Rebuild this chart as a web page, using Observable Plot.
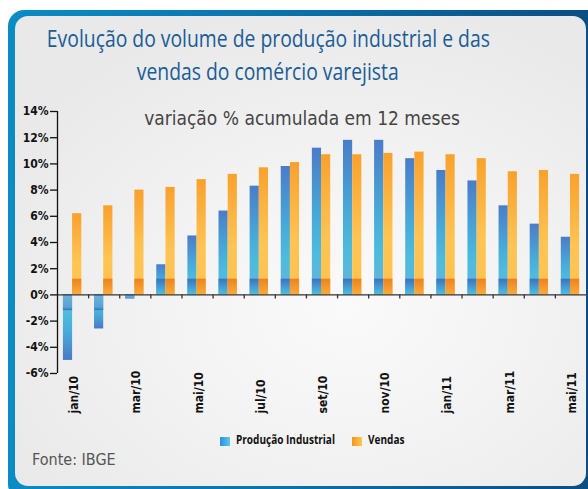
<!DOCTYPE html>
<html><head><meta charset="utf-8">
<script src="https://cdn.jsdelivr.net/npm/d3@7"></script>
<script src="https://cdn.jsdelivr.net/npm/@observablehq/plot@0.6"></script>
<style>
body{margin:0;background:#fff;}
#wrap{position:relative;width:588px;height:489px;overflow:hidden;font-family:"DejaVu Sans Condensed",sans-serif;}
#outer{position:absolute;left:8px;top:10px;width:610px;height:490px;border-radius:16px;background:linear-gradient(90deg,#0a8cc4 0%,#0a72ac 45%,#0b4a80 100%);}
#inner{position:absolute;left:15px;top:16px;width:571px;height:470px;border-radius:13px;background:radial-gradient(ellipse 70% 65% at 58% 62%,#fafafa 0%,#f3f3f3 45%,#e9e9e9 100%);}
.tl{position:absolute;left:0;width:536px;text-align:center;font-family:"Open Sans",sans-serif;font-size:23px;line-height:33px;color:#1a5c98;white-space:nowrap;}
.tl span{display:inline-block;transform-origin:50% 50%;}
#sub{position:absolute;left:0;top:109px;width:604px;text-align:center;font-size:19px;line-height:19px;color:#444;}
#chart{position:absolute;left:0;top:95px;}
#legend{position:absolute;left:220px;top:436px;font-family:"Open Sans",sans-serif;font-size:12px;font-weight:bold;color:#111;white-space:nowrap;height:14px;}
#legend .sw{position:absolute;top:1px;width:10px;height:9px;}
#legend .lt{position:absolute;top:-4px;line-height:16px;transform-origin:0 50%;}
#fonte{position:absolute;left:32px;top:450px;font-size:16px;color:#555;}
</style></head>
<body>
<div id="wrap">
  <div id="outer"></div>
  <div id="inner"></div>
  <div class="tl" style="top:22px"><span id="t1">Evolução do volume de produção industrial e das</span></div>
  <div class="tl" style="top:55px"><span id="t2">vendas do comércio varejista</span></div>
  <div id="chart"></div>
  <div id="sub">variação % acumulada em 12 meses</div>
  <div id="legend">
    <span class="sw" style="left:0;background:linear-gradient(90deg,#2b8fe0,#5cc8f0)"></span>
    <span class="lt" id="l1" style="left:16px">Produção Industrial</span>
    <span class="sw" style="left:132px;background:linear-gradient(90deg,#f7941d,#ffc84a)"></span>
    <span class="lt" id="l2" style="left:148px">Vendas</span>
  </div>
  <div id="fonte">Fonte: IBGE</div>
</div>
<script>
const months = ["jan/10","fev/10","mar/10","abr/10","mai/10","jun/10","jul/10","ago/10","set/10","out/10","nov/10","dez/10","jan/11","fev/11","mar/11","abr/11","mai/11"];
const producao = [-5.0,-2.6,-0.3,2.3,4.5,6.4,8.3,9.8,11.2,11.8,11.8,10.4,9.5,8.7,6.8,5.4,4.4];
const vendas = [6.2,6.8,8.0,8.2,8.8,9.2,9.7,10.1,10.7,10.7,10.8,10.9,10.7,10.4,9.4,9.5,9.2];
const yTicks = [-6,-4,-2,0,2,4,6,8,10,12,14];
const labeledMonths = months.filter((m, i) => i % 2 === 0);

const data = months.map((m, i) => ({i, month: m, prod: producao[i], vend: vendas[i]}));
const band = v => Math.sign(v) * Math.min(Math.abs(v), 1.2);

const defs = () => {
  const d = d3.create("svg:defs");
  const lg = (id, stops) => {
    const g = d.append("linearGradient").attr("id", id).attr("x1", 0).attr("y1", 0).attr("x2", 0).attr("y2", 1);
    stops.forEach(([o, c]) => g.append("stop").attr("offset", o).attr("stop-color", c));
  };
  lg("gBlueUp", [[0, "#4a7cc8"], [0.45, "#48a8d8"], [0.72, "#4dbcdd"], [1, "#6ab2d8"]]);
  lg("gBlueDown", [[0, "#6ab2d8"], [0.3, "#4dbcdd"], [0.6, "#48a8d8"], [1, "#4a78c6"]]);
  lg("gOrangeUp", [[0, "#f9a12c"], [0.6, "#ffc454"], [1, "#ffc24e"]]);
  lg("gBlueBand", [[0, "#3a72c0"], [1, "#4fbfe0"]]);
  lg("gBlueBandDown", [[0, "#6cb4da"], [0.8, "#5aa2d4"], [1, "#3a6fbe"]]);
  lg("gOrangeBand", [[0, "#ec8220"], [1, "#fbab3a"]]);
  return d.node();
};

const B1 = 0.19, B2 = 0.485, B3 = 0.78;

const plot = Plot.plot({
  width: 588,
  height: 330,
  marginLeft: 57,
  marginRight: 2,
  marginTop: 16,
  marginBottom: 52,
  style: {background: "transparent", fontFamily: "'DejaVu Sans Condensed',sans-serif", color: "#111"},
  x: {domain: [0, months.length], axis: null},
  y: {domain: [yTicks[0], yTicks[yTicks.length - 1]], axis: null},
  marks: [
    defs,
    Plot.rectY(data, {filter: d => d.prod >= 0, x1: d => d.i + B1, x2: d => d.i + B2, y: "prod", fill: "url(#gBlueUp)"}),
    Plot.rectY(data, {filter: d => d.prod < 0, x1: d => d.i + B1, x2: d => d.i + B2, y: "prod", fill: "url(#gBlueDown)"}),
    Plot.rectY(data, {filter: d => d.prod >= 0, x1: d => d.i + B1, x2: d => d.i + B2, y: d => band(d.prod), fill: "url(#gBlueBand)"}),
    Plot.rectY(data, {filter: d => d.prod < 0, x1: d => d.i + B1, x2: d => d.i + B2, y: d => band(d.prod), fill: "url(#gBlueBandDown)"}),
    Plot.rectY(data, {x1: d => d.i + B2, x2: d => d.i + B3, y: "vend", fill: "url(#gOrangeUp)"}),
    Plot.rectY(data, {x1: d => d.i + B2, x2: d => d.i + B3, y: d => band(d.vend), fill: "url(#gOrangeBand)"}),
    Plot.ruleY([0], {stroke: "#333", strokeWidth: 1.3}),
    Plot.ruleX(d3.range(1, months.length), {x: d => d, y1: 0, y2: 0, insetBottom: -4, stroke: "#333", strokeWidth: 1.3}),
    Plot.ruleX([0], {y1: yTicks[0], y2: yTicks[yTicks.length - 1], stroke: "#111", strokeWidth: 1.3}),
    Plot.axisY({ticks: yTicks, tickFormat: d => d + "%", tickSize: 7, tickPadding: 2, fontSize: 12, fontWeight: "bold", label: null, stroke: "#111", strokeWidth: 1.3}),
    Plot.text(data.filter(d => labeledMonths.includes(d.month)), {x: d => d.i + 0.5, text: "month", frameAnchor: "bottom", rotate: -90, textAnchor: "start", dy: 40, dx: 5, fontSize: 12, fontWeight: "bold", fill: "#111"})
  ]
});
document.getElementById("chart").appendChild(plot);

// condense title and legend text to the reference widths
const t1 = document.getElementById("t1"), t2 = document.getElementById("t2");
const sT = 443 / t1.getBoundingClientRect().width;
t1.style.transform = `scaleX(${sT})`;
t2.style.transform = `scaleX(${sT})`;
const l1 = document.getElementById("l1"), l2 = document.getElementById("l2");
const sL = 99 / l1.getBoundingClientRect().width;
l1.style.transform = `scaleX(${sL})`;
l2.style.transform = `scaleX(${sL})`;
</script>
</body></html>
